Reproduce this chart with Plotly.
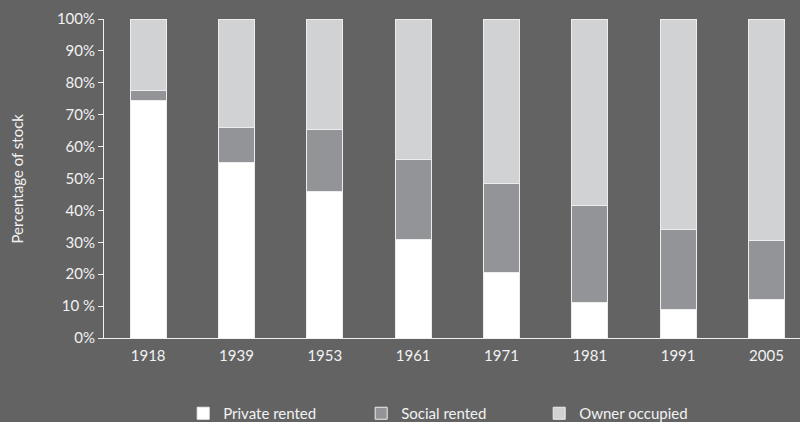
import plotly.graph_objects as go

years = ["1918", "1939", "1953", "1961", "1971", "1981", "1991", "2005"]
private_rented = [74.5, 55, 46, 31, 20.5, 11, 9, 12]
social_rented = [3, 11, 19.5, 25, 28, 30.5, 25, 18.5]
owner_occupied = [22.5, 34, 34.5, 44, 51.5, 58.5, 66, 69.5]

ytick_vals = [0, 10, 20, 30, 40, 50, 60, 70, 80, 90, 100]
ytick_text = ["0%", "10 %", "20%", "30%", "40%", "50%", "60%", "70%", "80%", "90%", "100%"]

font_fam = "Lato, 'Open Sans', sans-serif"
txt = "#f2f2f2"

fig = go.Figure()
for name, vals, col in [
    ("Private rented", private_rented, "#ffffff"),
    ("Social rented", social_rented, "#939497"),
    ("Owner occupied", owner_occupied, "#d1d2d4"),
]:
    fig.add_trace(go.Bar(
        x=years, y=vals, name=name,
        marker=dict(color=col, line=dict(color="#ededed", width=1)),
    ))

fig.update_layout(
    barmode="stack",
    bargap=0.59,
    width=800, height=422,
    paper_bgcolor="#636363",
    plot_bgcolor="#636363",
    margin=dict(l=104, r=0, t=19, b=84, autoexpand=False),
    font=dict(family=font_fam, size=15, color=txt),
    showlegend=True,
    legend=dict(orientation="h", xref="container", yref="paper",
                x=0.229, xanchor="left", y=-0.185, yanchor="top",
                font=dict(size=15, color=txt), traceorder="normal",
                itemwidth=30, entrywidthmode="pixels", entrywidth=133),
    annotations=[dict(text="Percentage of stock", xref="paper", yref="paper",
                      x=-0.1264, y=0.5, xanchor="center", yanchor="middle",
                      textangle=-90, showarrow=False,
                      font=dict(size=15, color=txt))],
)
fig.update_xaxes(
    range=[-0.5, 7.38],
    showgrid=False, showline=True, linecolor="#f0f0f0", linewidth=1,
    ticks="outside", ticklen=4, tickcolor="rgba(0,0,0,0)",
    tickfont=dict(size=15, color=txt),
)
fig.update_yaxes(
    range=[0, 100], tickvals=ytick_vals, ticktext=ytick_text,
    showgrid=False, zeroline=False, showline=True, linecolor="#f0f0f0", linewidth=1,
    ticks="outside", ticklen=5, tickcolor="#f0f0f0",
    tickfont=dict(size=15, color=txt),
)

fig.write_html("out.html", config={"displayModeBar": False},
               post_script="document.body.style.margin='0';document.body.style.background='#636363';")
